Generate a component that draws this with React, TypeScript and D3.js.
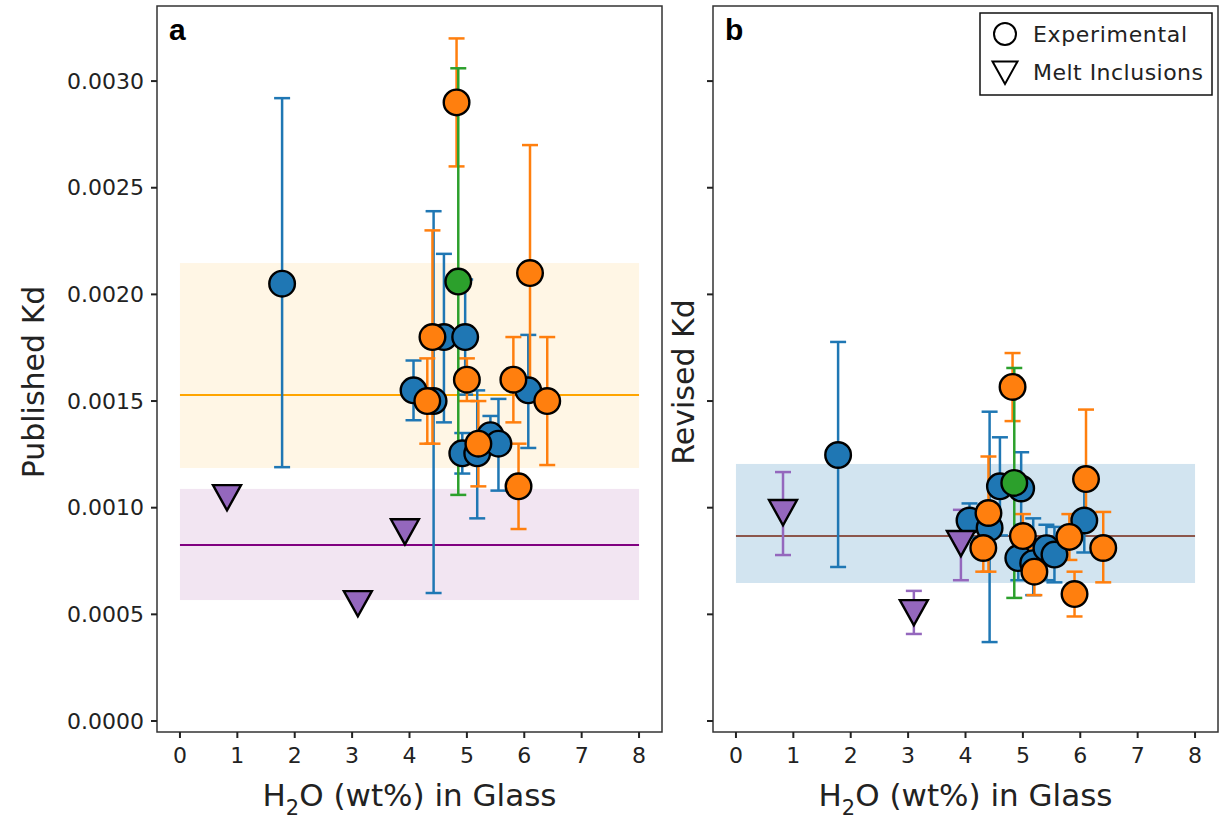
import React from 'react'
import { scaleLinear, format } from 'd3'

// water content in glass (wt%)
const blueH2O = [1.78, 4.07, 4.42, 4.6, 4.92, 4.97, 5.18, 5.41, 5.55, 6.07]
const bluePub = [0.00205, 0.00155, 0.0015, 0.0018, 0.001255, 0.0018, 0.001255, 0.00134, 0.0013, 0.00155]
const bluePubLo = [0.00119, 0.00141, 0.0006, 0.0014, 0.00116, 0.00153, 0.00095, 0.00125, 0.00108, 0.00128]
const bluePubHi = [0.00292, 0.00169, 0.00239, 0.00219, 0.00135, 0.00207, 0.00155, 0.00143, 0.00151, 0.00181]
const blueRev = [0.001247, 0.00094, 0.000905, 0.0011, 0.000764, 0.00109, 0.00074, 0.00081, 0.00078, 0.00094]
const blueRevLo = [0.000722, 0.00086, 0.00037, 0.00087, 0.00066, 0.00092, 0.00059, 0.00066, 0.00065, 0.00079]
const blueRevHi = [0.001777, 0.00102, 0.00145, 0.00133, 0.00087, 0.00126, 0.00095, 0.00092, 0.00091, 0.0011]

const orangeH2O = [4.31, 4.4, 4.82, 5.0, 5.2, 5.81, 5.9, 6.1, 6.4]
const orangePub = [0.0015, 0.0018, 0.0029, 0.0016, 0.0013, 0.0016, 0.0011, 0.0021, 0.0015]
const orangePubLo = [0.0013, 0.0013, 0.0026, 0.0015, 0.0011, 0.0014, 0.0009, 0.0015, 0.0012]
const orangePubHi = [0.0017, 0.0023, 0.0032, 0.0017, 0.0015, 0.0018, 0.0013, 0.0027, 0.0018]
const orangeRev = [0.000811, 0.000975, 0.001566, 0.000867, 0.0007, 0.000863, 0.000595, 0.001134, 0.000811]
const orangeRevLo = [0.0007, 0.0007, 0.001406, 0.00076, 0.00059, 0.000755, 0.00049, 0.00095, 0.00065]
const orangeRevHi = [0.00092, 0.00124, 0.001725, 0.00097, 0.00081, 0.00097, 0.0007, 0.00146, 0.00098]

const greenH2O = [4.85]
const greenPub = [0.00206]
const greenPubLo = [0.00106]
const greenPubHi = [0.00306]
const greenRev = [0.001116]
const greenRevLo = [0.000577]
const greenRevHi = [0.001655]

// melt inclusions
const miH2O = [0.82, 3.1, 3.92]
const miPub = [0.00105, 0.000553, 0.00089]
const miRev = [0.00098, 0.000511, 0.000835]
const miRevLo = [0.000778, 0.000408, 0.00066]
const miRevHi = [0.001167, 0.00061, 0.00099]

// mean +/- band
const pubExpBand = [0.001186, 0.001528, 0.002147]
const pubMiBand = [0.000567, 0.000825, 0.001088]
const revBand = [0.000647, 0.000867, 0.001205]

const xTicks = [0, 1, 2, 3, 4, 5, 6, 7, 8]
const yTicks = [0, 0.0005, 0.001, 0.0015, 0.002, 0.0025, 0.003]

const FONT = 'DejaVu Sans, sans-serif'
const top = 6, bottom = 732

const y = scaleLinear().domain([-0.0000516, 0.003352]).range([bottom, top])

function tri(cx, cy, s) {
  return `M${cx - s},${cy - s * 0.85}L${cx + s},${cy - s * 0.85}L${cx},${cy + s * 0.95}Z`
}

function ErrBars({ x, xs, lo, hi, color }) {
  return (
    <g stroke={color} strokeWidth={2.5}>
      {xs.map((d, i) => (
        <g key={i}>
          <line x1={x(d)} x2={x(d)} y1={y(lo[i])} y2={y(hi[i])} />
          <line x1={x(d) - 8} x2={x(d) + 8} y1={y(lo[i])} y2={y(lo[i])} />
          <line x1={x(d) - 8} x2={x(d) + 8} y1={y(hi[i])} y2={y(hi[i])} />
        </g>
      ))}
    </g>
  )
}

function Dots({ x, xs, ys, color }) {
  return (
    <g>
      {xs.map((d, i) => (
        <circle key={i} cx={x(d)} cy={y(ys[i])} r={12.8} fill={color} stroke="#000" strokeWidth={2.4} />
      ))}
    </g>
  )
}

function Panel({ left, right, label, yLabel, yLabelX, showYLabels, children, x }) {
  const fy = format('.4f')
  return (
    <g>
      <rect x={left} y={top} width={right - left} height={bottom - top} fill="#fff" />
      {children}
      <rect x={left} y={top} width={right - left} height={bottom - top} fill="none" stroke="#333" strokeWidth={1.5} />
      {yTicks.map(t => (
        <g key={t}>
          <line x1={left - 6} x2={left} y1={y(t)} y2={y(t)} stroke="#222" strokeWidth={2} />
          {showYLabels && (
            <text x={left - 13} y={y(t)} dy="0.35em" textAnchor="end" fontFamily={FONT} fontSize={22} fill="#222">{fy(t)}</text>
          )}
        </g>
      ))}
      {xTicks.map(t => (
        <g key={t}>
          <line x1={x(t)} x2={x(t)} y1={bottom} y2={bottom + 6} stroke="#222" strokeWidth={2} />
          <text x={x(t)} y={bottom + 23} dy="0.35em" textAnchor="middle" fontFamily={FONT} fontSize={22} fill="#222">{t}</text>
        </g>
      ))}
      <text x={(left + right) / 2} y={806} textAnchor="middle" fontFamily={FONT} fontSize={31} fill="#222">
        H<tspan fontSize={21} dy={9}>2</tspan><tspan dy={-9}>O (wt%) in Glass</tspan>
      </text>
      <text transform={`translate(${yLabelX},${(top + bottom) / 2 + 13}) rotate(-90)`} textAnchor="middle" fontFamily={FONT} fontSize={30} fill="#222">{yLabel}</text>
      <text x={left + 12} y={40} fontFamily="Liberation Sans, Arial, sans-serif" fontWeight="bold" fontSize={30} fill="#000">{label}</text>
    </g>
  )
}

export default function App() {
  const xa = scaleLinear().domain([-0.4, 8.4]).range([157, 662])
  const xb = scaleLinear().domain([-0.4, 8.4]).range([713, 1218])

  return (
    <svg width={1219} height={822} style={{ position: 'absolute', left: 0, top: 0, background: '#fff' }}>
      <Panel left={157} right={662} label="a" yLabel="Published Kd" yLabelX={44} showYLabels x={xa}>
        <rect x={xa(0)} width={xa(8) - xa(0)} y={y(pubExpBand[2])} height={y(pubExpBand[0]) - y(pubExpBand[2])} fill="#ffa500" fillOpacity={0.1} />
        <rect x={xa(0)} width={xa(8) - xa(0)} y={y(pubMiBand[2])} height={y(pubMiBand[0]) - y(pubMiBand[2])} fill="#800080" fillOpacity={0.1} />
        <line x1={xa(0)} x2={xa(8)} y1={y(pubExpBand[1])} y2={y(pubExpBand[1])} stroke="#ffa500" strokeWidth={2} />
        <line x1={xa(0)} x2={xa(8)} y1={y(pubMiBand[1])} y2={y(pubMiBand[1])} stroke="#800080" strokeWidth={2} />
        <ErrBars x={xa} xs={blueH2O} lo={bluePubLo} hi={bluePubHi} color="#1f77b4" />
        <ErrBars x={xa} xs={orangeH2O} lo={orangePubLo} hi={orangePubHi} color="#ff7f0e" />
        <ErrBars x={xa} xs={greenH2O} lo={greenPubLo} hi={greenPubHi} color="#2ca02c" />
        <Dots x={xa} xs={blueH2O} ys={bluePub} color="#1f77b4" />
        <Dots x={xa} xs={orangeH2O} ys={orangePub} color="#ff7f0e" />
        <Dots x={xa} xs={greenH2O} ys={greenPub} color="#2ca02c" />
        {miH2O.map((d, i) => (
          <path key={i} d={tri(xa(d), y(miPub[i]), 14)} fill="#9467bd" stroke="#000" strokeWidth={2.4} />
        ))}
      </Panel>
      <Panel left={713} right={1218} label="b" yLabel="Revised Kd" yLabelX={694} showYLabels={false} x={xb}>
        <rect x={xb(0)} width={xb(8) - xb(0)} y={y(revBand[2])} height={y(revBand[0]) - y(revBand[2])} fill="#1f77b4" fillOpacity={0.2} />
        <line x1={xb(0)} x2={xb(8)} y1={y(revBand[1])} y2={y(revBand[1])} stroke="#8c564b" strokeWidth={2} />
        <ErrBars x={xb} xs={miH2O} lo={miRevLo} hi={miRevHi} color="#9467bd" />
        <ErrBars x={xb} xs={blueH2O} lo={blueRevLo} hi={blueRevHi} color="#1f77b4" />
        <ErrBars x={xb} xs={orangeH2O} lo={orangeRevLo} hi={orangeRevHi} color="#ff7f0e" />
        <ErrBars x={xb} xs={greenH2O} lo={greenRevLo} hi={greenRevHi} color="#2ca02c" />
        <Dots x={xb} xs={blueH2O} ys={blueRev} color="#1f77b4" />
        <Dots x={xb} xs={orangeH2O} ys={orangeRev} color="#ff7f0e" />
        <Dots x={xb} xs={greenH2O} ys={greenRev} color="#2ca02c" />
        {miH2O.map((d, i) => (
          <path key={i} d={tri(xb(d), y(miRev[i]), 14)} fill="#9467bd" stroke="#000" strokeWidth={2.4} />
        ))}
      </Panel>
      <g>
        <rect x={980} y={13} width={232} height={82} fill="#fff" stroke="#111" strokeWidth={1.5} />
        <circle cx={1005} cy={34} r={11} fill="none" stroke="#000" strokeWidth={2} />
        <text x={1033} y={42} fontFamily={FONT} fontSize={22} fill="#222" textLength={154}>Experimental</text>
        <path d={tri(1005, 72, 12.5)} fill="none" stroke="#000" strokeWidth={2} />
        <text x={1033} y={80} fontFamily={FONT} fontSize={22} fill="#222" textLength={170}>Melt Inclusions</text>
      </g>
    </svg>
  )
}
